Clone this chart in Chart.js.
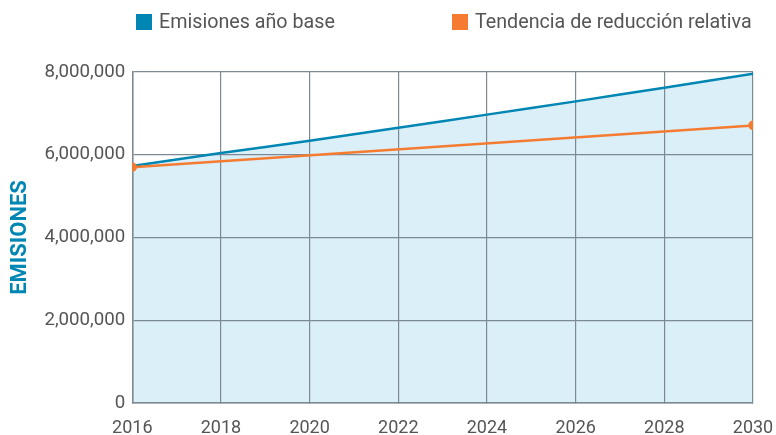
<!DOCTYPE html>
<html>
<head>
<meta charset="utf-8">
<script src="https://cdn.jsdelivr.net/npm/chart.js@4"></script>
<style>
  html, body { margin: 0; padding: 0; background: #fff; }
  #wrap { position: relative; width: 776px; height: 435px; }
  .leg { position: absolute; top: 12px; height: 20px; font: 19.7px Roboto, sans-serif; color: #555; line-height: 20px; white-space: nowrap; }
  .leg span { display: inline-block; width: 16px; height: 16px; vertical-align: -2px; margin-right: 7px; }
</style>
</head>
<body>
<div id="wrap">
  <div class="leg" style="left:136px"><span style="background:#0086b3"></span>Emisiones año base</div>
  <div class="leg" style="left:452px"><span style="background:#f47b30"></span>Tendencia de reducción relativa</div>
  <canvas id="c" width="776" height="435"></canvas>
</div>
<script>
// datos
const years = [2016, 2017, 2018, 2019, 2020, 2021, 2022, 2023, 2024, 2025, 2026, 2027, 2028, 2029, 2030];
const baseEmissions = [5730000, 5885000, 6040000, 6190000, 6340000, 6495000, 6650000, 6810000, 6970000, 7130000, 7290000, 7455000, 7620000, 7790000, 7960000];
const trendYears = [2016, 2030];
const trendValues = [5700000, 6710000];
const yTicks = [0, 2000000, 4000000, 6000000, 8000000];
const xTicks = [2016, 2018, 2020, 2022, 2024, 2026, 2028, 2030];

const gridColor = '#7d8a93';
const textColor = '#555';

new Chart(document.getElementById('c').getContext('2d'), {
  type: 'line',
  data: {
    datasets: [
      {
        label: 'Tendencia de reducción relativa',
        data: trendYears.map((x, i) => ({ x, y: trendValues[i] })),
        borderColor: '#f47b30',
        backgroundColor: '#f47b30',
        borderWidth: 2.5,
        pointRadius: 3.5,
        fill: false,
        order: 1
      },
      {
        label: 'Emisiones año base',
        data: years.map((x, i) => ({ x, y: baseEmissions[i] })),
        borderColor: '#0086b3',
        backgroundColor: '#dbeff8',
        borderWidth: 2.5,
        pointRadius: 0,
        fill: 'origin',
        order: 2
      }
    ]
  },
  options: {
    responsive: false,
    animation: false,
    layout: { padding: { top: 72, left: 3, right: 23, bottom: 0 } },
    plugins: {
      legend: { display: false },
      tooltip: { enabled: false },
      filler: { drawTime: 'beforeDraw' }
    },
    scales: {
      x: {
        type: 'linear',
        min: 2016,
        max: 2030,
        afterBuildTicks: s => { s.ticks = xTicks.map(v => ({ value: v })); },
        afterFit: s => { s.height = 32; s.paddingLeft = 0; s.paddingRight = 0; },
        ticks: { color: textColor, font: { family: 'Roboto', size: 18 }, padding: 15, maxRotation: 0, callback: v => String(v) },
        grid: { color: gridColor, lineWidth: 1.2, tickLength: 0 },
        border: { color: gridColor, width: 1.5 }
      },
      y: {
        min: 0,
        max: 8000000,
        afterBuildTicks: s => { s.ticks = yTicks.map(v => ({ value: v })); },
        ticks: { color: textColor, font: { family: 'Roboto', size: 18.7 }, padding: 7, callback: v => v.toLocaleString('en-US') },
        grid: { color: gridColor, lineWidth: 1.2, tickLength: 0 },
        border: { color: gridColor, width: 1.5 },
        title: { display: true, text: 'EMISIONES', color: '#0086b3', font: { family: 'Roboto', size: 22, weight: 'bold' }, padding: { top: 4, bottom: 4 } }
      }
    }
  }
});
</script>
</body>
</html>
